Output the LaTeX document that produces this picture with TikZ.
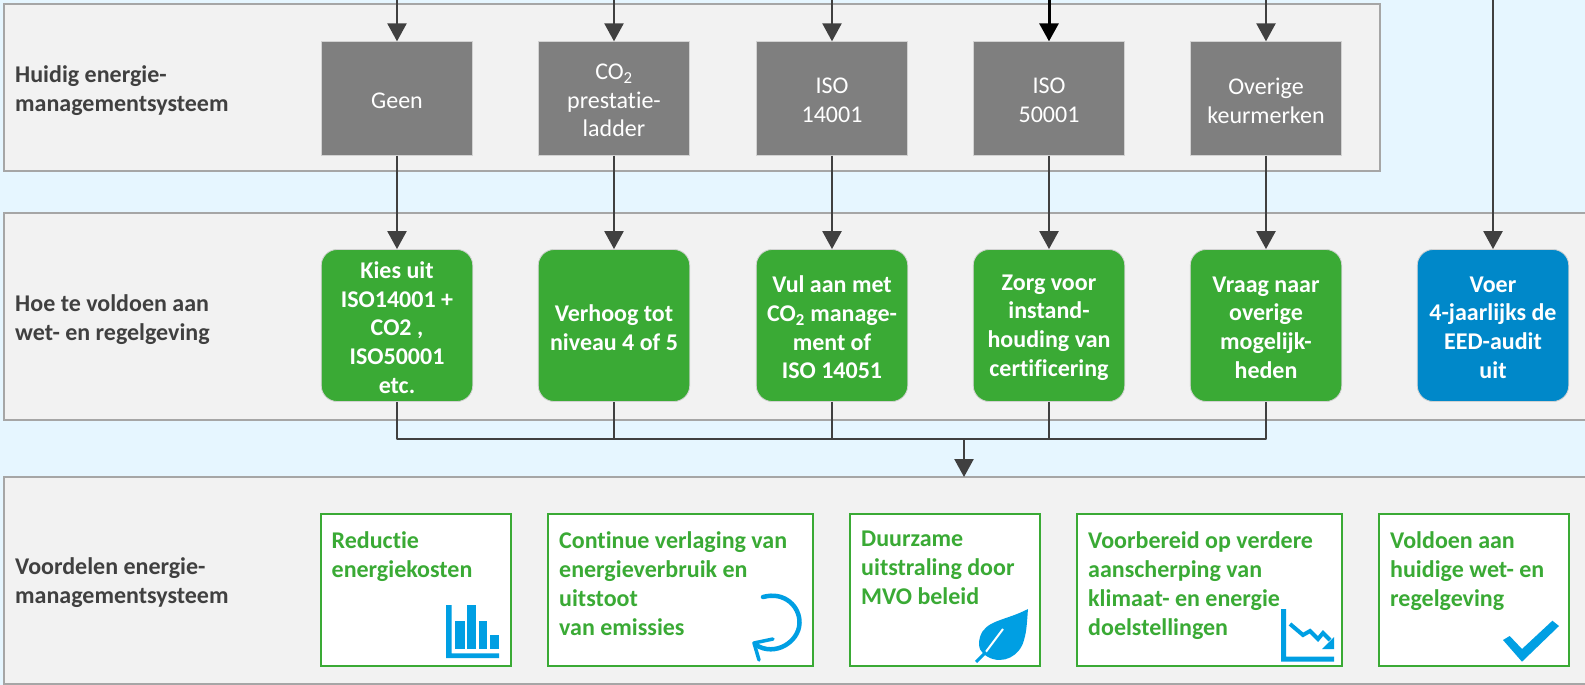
\documentclass[tikz,border=0pt]{standalone}
\usepackage{fontspec}
\setmainfont[Ligatures={NoCommon}]{Carlito}
\usetikzlibrary{arrows.meta}
\definecolor{bgblue}{HTML}{E6F6FF}
\definecolor{bandfill}{HTML}{F2F2F2}
\definecolor{bandline}{HTML}{A6A6A6}
\definecolor{boxgray}{HTML}{7F7F7F}
\definecolor{mygreen}{HTML}{3AAA35}
\definecolor{myblue}{HTML}{0088C9}
\definecolor{iconblue}{HTML}{009FE3}
\definecolor{linedark}{HTML}{404040}
\tikzset{
  band/.style={draw=bandline,fill=bandfill,line width=2pt},
  bandlabel/.style={anchor=west,align=left,inner sep=0pt,text=linedark,font=\fontsize{24}{29}\selectfont\bfseries},
  graybox/.style={fill=boxgray,draw=bandline!50!white,line width=0.8pt,minimum width=151.5pt,minimum height=113.5pt,inner sep=0pt},
  graytext/.style={align=center,inner sep=0pt,yshift=-2pt,text=white,font=\fontsize{24}{28.7}\selectfont},
  greenbox/.style={fill=mygreen,draw=bandline!50!white,line width=0.8pt,rounded corners=16pt,minimum width=151.5pt,minimum height=152pt,inner sep=0pt},
  bluebox/.style={greenbox,fill=myblue},
  actiontext/.style={align=center,inner sep=0pt,yshift=-2pt,text=white,font=\fontsize{24}{28.7}\selectfont\bfseries},
  benefit/.style={draw=mygreen,fill=white,line width=2pt,inner sep=0pt,minimum height=152pt},
  benefittext/.style={anchor=north west,align=left,inner sep=0pt,xshift=12pt,yshift=-18pt,text=mygreen,font=\fontsize{24}{29}\selectfont\bfseries},
  conn/.style={draw=linedark,line width=2.4pt,line join=round},
  arr/.style={conn,-{Triangle[width=19pt,length=18pt]}},
  icon/.style={fill=iconblue,draw=none},
  iconline/.style={draw=iconblue,line join=miter}
}
\begin{document}
\begin{tikzpicture}[x=1pt,y=-1pt]
\useasboundingbox (0,0) rectangle (1585,685);
\clip (0,0) rectangle (1585,685);
\fill[bgblue] (0,0) rectangle (1585,685);

% bands
\draw[band] (3.5,4.5) rectangle (1380,170.5);
\draw[band] (3.5,212.5) rectangle (1595,420);
\draw[band] (3.5,477) rectangle (1595,684);

% band labels
\node[bandlabel] (lab1) at (15,90.5) {Huidig energie-\\managementsysteem};
\node[bandlabel] (lab2) at (15,319.5) {Hoe te voldoen aan\\wet- en regelgeving};
\node[bandlabel] (lab3) at (15,583) {Voordelen energie-\\managementsysteem};

% grey boxes
\node[graybox] (s1) at (397,98.5) {};
\node[graybox] (s2) at (614,98.5) {};
\node[graybox] (s3) at (832,98.5) {};
\node[graybox] (s4) at (1049,98.5) {};
\node[graybox] (s5) at (1266,98.5) {};
\node[graytext] (s1t) at (s1.center) {Geen};
\node[graytext] (s2t) at (s2.center) {CO\textsubscript{2}\\prestatie-\\ladder};
\node[graytext] (s3t) at (s3.center) {ISO\\14001};
\node[graytext] (s4t) at (s4.center) {ISO\\50001};
\node[graytext] (s5t) at (s5.center) {Overige\\keurmerken};

% action boxes
\node[greenbox] (g1) at (397,325.5) {};
\node[greenbox] (g2) at (614,325.5) {};
\node[greenbox] (g3) at (832,325.5) {};
\node[greenbox] (g4) at (1049,325.5) {};
\node[greenbox] (g5) at (1266,325.5) {};
\node[bluebox] (g6) at (1493,325.5) {};
\node[actiontext] (g1t) at (g1.center) {Kies uit\\ISO14001 +\\CO2 ,\\ISO50001\\etc.};
\node[actiontext] (g2t) at (g2.center) {Verhoog tot\\niveau 4 of 5};
\node[actiontext] (g3t) at (g3.center) {Vul aan met\\CO\textsubscript{2} manage-\\ment of\\ISO 14051};
\node[actiontext] (g4t) at (g4.center) {Zorg voor\\instand-\\houding van\\certificering};
\node[actiontext] (g5t) at (g5.center) {Vraag naar\\overige\\mogelijk-\\heden};
\node[actiontext] (g6t) at (g6.center) {Voer\\4-jaarlijks de\\EED-audit\\uit};

% free ends
\coordinate (t1) at (397,0);
\coordinate (t2) at (614,0);
\coordinate (t3) at (832,0);
\coordinate (t4) at (1049,0);
\coordinate (t5) at (1266,0);
\coordinate (t6) at (1493,0);
\coordinate (bus) at (964,439);
\coordinate (benefits) at (964,477);

% connectors
\draw[arr] (t1) -- (s1.north);
\draw[arr] (t2) -- (s2.north);
\draw[arr] (t3) -- (s3.north);
\draw[conn,draw=black,line width=3pt,-{Triangle[width=19pt,length=18pt]}] (t4) -- (s4.north);
\draw[arr] (t5) -- (s5.north);
\draw[arr] (t6) -- (g6.north);
\draw[arr] (s1.south) -- (g1.north);
\draw[arr] (s2.south) -- (g2.north);
\draw[arr] (s3.south) -- (g3.north);
\draw[arr] (s4.south) -- (g4.north);
\draw[arr] (s5.south) -- (g5.north);
\draw[conn] (g1.south) |- (bus);
\draw[conn] (g2.south) |- (bus);
\draw[conn] (g3.south) |- (bus);
\draw[conn] (g4.south) |- (bus);
\draw[conn] (g5.south) |- (bus);
\draw[arr] (bus) -- (benefits);

% benefit boxes
\node[benefit,minimum width=190pt] (b1) at (415.5,590) {};
\node[benefit,minimum width=265pt] (b2) at (680.5,590) {};
\node[benefit,minimum width=190pt] (b3) at (945,590) {};
\node[benefit,minimum width=265pt] (b4) at (1209.5,590) {};
\node[benefit,minimum width=190pt] (b5) at (1474,590) {};
\node[benefittext] (b1t) at (b1.north west) {Reductie\\energiekosten};
\node[benefittext] (b2t) at (b2.north west) {Continue verlaging van\\energieverbruik en\\uitstoot\\van emissies};
\node[benefittext] (b3t) at (b3.north west) {Duurzame\\uitstraling door\\MVO beleid};
\node[benefittext] (b4t) at (b4.north west) {Voorbereid op verdere\\aanscherping van\\klimaat- en energie\\doelstellingen};
\node[benefittext] (b5t) at (b5.north west) {Voldoen aan\\huidige wet- en\\regelgeving};

% icon: bar chart
\fill[icon] (446,605) rectangle (451.5,653.3) (446,653.3) rectangle (499,658);
\fill[icon] (455,621) rectangle (464.6,649);
\fill[icon] (467,605) rectangle (476,649);
\fill[icon] (478.5,621) rectangle (487,649);
\fill[icon] (490,635) rectangle (499,649);

% icon: cycle arrow
\draw[iconline,line width=4.5pt,line cap=round] (763,597) .. controls (785,591) and (800,607) .. (799.5,623) .. controls (799,642) and (775,657) .. (756,645);
\draw[iconline,line width=3.5pt,line cap=round,line join=round] (759,660) -- (754,643) -- (773,639);

% icon: leaf
\fill[icon] (1028,609) .. controls (1005,621) and (985,620) .. (980,637) .. controls (977,648) and (981,653) .. (988,657) .. controls (1003,665) and (1020,656) .. (1024,640) .. controls (1027,630) and (1027,620) .. (1028,609) -- cycle;
\draw[white,line width=2pt] (1003,629) -- (985,653);
\draw[iconblue,line width=3pt] (986,652) -- (976,662);

% icon: falling chart
\fill[icon] (1281,609) rectangle (1286,656.7) (1281,656.7) rectangle (1334,661.7);
\draw[iconline,line width=4pt] (1290,624) -- (1303,635) -- (1310,631) -- (1318,639) -- (1323,633) -- (1330,640);
\fill[icon] (1334,637) -- (1334,649) -- (1322,649) -- cycle;

% icon: check mark
\fill[icon] (1503,640) -- (1522,661.7) -- (1559,626) -- (1552.4,620.7) -- (1522,649) -- (1509.7,636) -- cycle;
\end{tikzpicture}
\end{document}
